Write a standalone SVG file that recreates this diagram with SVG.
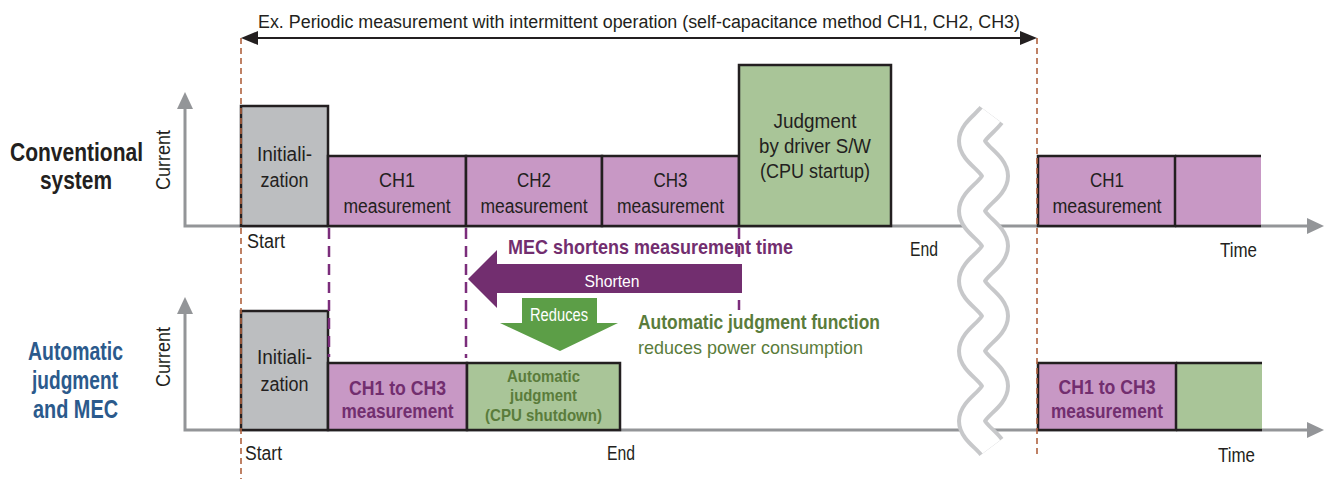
<svg xmlns="http://www.w3.org/2000/svg" width="1330" height="479" viewBox="0 0 1330 479">
<defs>
<style>
text{font-family:"Liberation Sans",Arial,sans-serif;}
.bx{stroke:#231f20;stroke-width:2.5}
.gr{fill:#bcbec0}.pu{fill:#c898c5}.gn{fill:#a9c598}
.ax{stroke:#939598;stroke-width:3;fill:none}
.axh{fill:#939598}
.lb{font-size:19.5px;fill:#231f20;text-anchor:middle}
.lbs{font-size:19.5px;fill:#231f20}
.dB{stroke:#b0623f;stroke-width:1.6;stroke-dasharray:6 4;fill:none}
.dP{stroke:#7b2d7b;stroke-width:2.5;stroke-dasharray:11 7;fill:none}
.pt{fill:#722e6f;font-weight:bold}
.gt{fill:#5a7c3b}
</style>
<path id="wave" d="M991.4,115.1 C984.9,123.8 972,131.3 972,141 C972,154 995,163 995,176 S972,198 972,211 S995,233 995,246 S972,268 972,281 S995,303 995,316 S972,338 972,351 S995,373 995,386 S972,408 972,421 C972,430.75 984.9,438.25 991.4,446.9" fill="none"/>
</defs>

<g id="axes">
  <path class="ax" d="M185,108 V226 H1308"/>
  <polygon class="axh" points="185,92 177,109 193,109"/>
  <polygon class="axh" points="1324,226 1307,218 1307,234"/>
  <path class="ax" d="M185,313 V430 H1308"/>
  <polygon class="axh" points="185,297 177,314 193,314"/>
  <polygon class="axh" points="1324,430 1307,422 1307,438"/>
</g>

<g id="break">
  <use href="#wave" stroke="#c7c8ca" stroke-width="30"/>
  <use href="#wave" stroke="#ffffff" stroke-width="22"/>
</g>

<g id="title">
  <text x="639" y="28" font-size="18" fill="#231f20" text-anchor="middle" textLength="762" lengthAdjust="spacingAndGlyphs">Ex. Periodic measurement with intermittent operation (self-capacitance method CH1, CH2, CH3)</text>
</g>

<g id="row-labels">
  <text x="76.5" y="161" font-size="25" font-weight="bold" fill="#231f20" text-anchor="middle" textLength="133" lengthAdjust="spacingAndGlyphs">Conventional</text>
  <text x="76" y="189" font-size="25" font-weight="bold" fill="#231f20" text-anchor="middle" textLength="72" lengthAdjust="spacingAndGlyphs">system</text>
  <text x="75.5" y="360" font-size="25" font-weight="bold" fill="#2b5a8c" text-anchor="middle" textLength="95" lengthAdjust="spacingAndGlyphs">Automatic</text>
  <text x="75" y="389" font-size="25" font-weight="bold" fill="#2b5a8c" text-anchor="middle" textLength="86" lengthAdjust="spacingAndGlyphs">judgment</text>
  <text x="75.5" y="418" font-size="25" font-weight="bold" fill="#2b5a8c" text-anchor="middle" textLength="85" lengthAdjust="spacingAndGlyphs">and MEC</text>
  <text class="lb" transform="translate(170,160) rotate(-90)" textLength="60" lengthAdjust="spacingAndGlyphs">Current</text>
  <text class="lb" transform="translate(170,357) rotate(-90)" textLength="60" lengthAdjust="spacingAndGlyphs">Current</text>
</g>

<g id="top-init">
  <rect class="bx gr" x="241" y="106" width="87" height="120"/>
  <text class="lb" x="284.5" y="161" textLength="55" lengthAdjust="spacingAndGlyphs">Initiali-</text>
  <text class="lb" x="284.5" y="187" textLength="48" lengthAdjust="spacingAndGlyphs">zation</text>
</g>
<g id="top-ch1">
  <rect class="bx pu" x="328" y="156" width="138" height="70"/>
  <text class="lb" x="397" y="187" textLength="36" lengthAdjust="spacingAndGlyphs">CH1</text>
  <text class="lb" x="397" y="213" textLength="107" lengthAdjust="spacingAndGlyphs">measurement</text>
</g>
<g id="top-ch2">
  <rect class="bx pu" x="466" y="156" width="136" height="70"/>
  <text class="lb" x="534" y="187" textLength="34" lengthAdjust="spacingAndGlyphs">CH2</text>
  <text class="lb" x="534" y="213" textLength="107" lengthAdjust="spacingAndGlyphs">measurement</text>
</g>
<g id="top-ch3">
  <rect class="bx pu" x="602" y="156" width="137" height="70"/>
  <text class="lb" x="670.5" y="187" textLength="34" lengthAdjust="spacingAndGlyphs">CH3</text>
  <text class="lb" x="670.5" y="213" textLength="107" lengthAdjust="spacingAndGlyphs">measurement</text>
</g>
<g id="top-judgment">
  <rect class="bx gn" x="739" y="65" width="152" height="161"/>
  <text class="lb" x="815" y="128" textLength="83" lengthAdjust="spacingAndGlyphs">Judgment</text>
  <text class="lb" x="815" y="153" textLength="112" lengthAdjust="spacingAndGlyphs">by driver S/W</text>
  <text class="lb" x="815" y="178" textLength="110" lengthAdjust="spacingAndGlyphs">(CPU startup)</text>
</g>
<g id="top-next">
  <rect class="pu" x="1175" y="156" width="86" height="70"/>
  <path class="bx" d="M1175,156 H1261 M1175,226 H1261" fill="none"/>
  <rect class="bx pu" x="1038" y="156" width="137" height="70"/>
  <text class="lb" x="1107" y="187" textLength="34" lengthAdjust="spacingAndGlyphs">CH1</text>
  <text class="lb" x="1107" y="213" textLength="109" lengthAdjust="spacingAndGlyphs">measurement</text>
</g>

<g id="bot-init">
  <rect class="bx gr" x="241" y="311" width="87" height="119"/>
  <text class="lb" x="284.5" y="364" textLength="55" lengthAdjust="spacingAndGlyphs">Initiali-</text>
  <text class="lb" x="284.5" y="391" textLength="48" lengthAdjust="spacingAndGlyphs">zation</text>
</g>
<g id="bot-ch">
  <rect class="bx pu" x="328" y="363" width="139" height="67"/>
  <text class="pt" x="397.5" y="395" font-size="20" text-anchor="middle" textLength="97" lengthAdjust="spacingAndGlyphs">CH1 to CH3</text>
  <text class="pt" x="397.5" y="418" font-size="20" text-anchor="middle" textLength="112" lengthAdjust="spacingAndGlyphs">measurement</text>
</g>
<g id="bot-auto">
  <rect class="bx gn" x="467" y="363" width="153" height="67"/>
  <text class="gt" x="543.5" y="382" font-size="16.5" font-weight="bold" text-anchor="middle" textLength="73" lengthAdjust="spacingAndGlyphs">Automatic</text>
  <text class="gt" x="543.5" y="401" font-size="16.5" font-weight="bold" text-anchor="middle" textLength="67" lengthAdjust="spacingAndGlyphs">judgment</text>
  <text class="gt" x="543.5" y="421" font-size="16.5" font-weight="bold" text-anchor="middle" textLength="117" lengthAdjust="spacingAndGlyphs">(CPU shutdown)</text>
</g>
<g id="bot-next">
  <rect class="gn" x="1176" y="363" width="86" height="67"/>
  <path class="bx" d="M1176,363 H1262 M1176,430 H1262" fill="none"/>
  <rect class="bx pu" x="1038" y="363" width="138" height="67"/>
  <text class="pt" x="1107" y="394" font-size="20" text-anchor="middle" textLength="97" lengthAdjust="spacingAndGlyphs">CH1 to CH3</text>
  <text class="pt" x="1107" y="418" font-size="20" text-anchor="middle" textLength="112" lengthAdjust="spacingAndGlyphs">measurement</text>
</g>

<g id="connectors">
  <line class="dB" x1="241" y1="38" x2="241" y2="479"/>
  <line class="dB" x1="1037" y1="38" x2="1037" y2="455"/>
  <line x1="255" y1="38" x2="1023" y2="38" stroke="#231f20" stroke-width="2"/>
  <polygon points="241,38 258,31 258,45" fill="#231f20"/>
  <polygon points="1037,38 1020,31 1020,45" fill="#231f20"/>
  <line class="dP" x1="329" y1="228" x2="329" y2="357"/>
  <line class="dP" x1="466" y1="228" x2="466" y2="358"/>
  <line class="dP" x1="739" y1="228" x2="739" y2="310"/>
  <polygon points="468,279 497,250 497,264 742,264 742,293 497,293 497,308" fill="#722e6f"/>
  <polygon points="522,298 597,298 597,323 618,323 560,351 500,323 522,323" fill="#5c9e47"/>
</g>

<g id="annotations">
  <text class="pt" x="508" y="254" font-size="21" textLength="285" lengthAdjust="spacingAndGlyphs">MEC shortens measurement time</text>
  <text x="612" y="287" font-size="17" fill="#fff" text-anchor="middle" textLength="55" lengthAdjust="spacingAndGlyphs">Shorten</text>
  <text x="559" y="321" font-size="17.5" fill="#fff" text-anchor="middle" textLength="58" lengthAdjust="spacingAndGlyphs">Reduces</text>
  <text class="gt" x="638" y="329" font-size="20" font-weight="bold" textLength="242" lengthAdjust="spacingAndGlyphs">Automatic judgment function</text>
  <text class="gt" x="638" y="354" font-size="19" textLength="225" lengthAdjust="spacingAndGlyphs">reduces power consumption</text>
  <text class="lbs" x="247" y="248" textLength="38" lengthAdjust="spacingAndGlyphs">Start</text>
  <text class="lbs" x="910" y="256" textLength="28" lengthAdjust="spacingAndGlyphs">End</text>
  <text class="lbs" x="1220" y="257" textLength="37" lengthAdjust="spacingAndGlyphs">Time</text>
  <text class="lbs" x="245" y="460" textLength="37" lengthAdjust="spacingAndGlyphs">Start</text>
  <text class="lbs" x="607" y="460" textLength="28" lengthAdjust="spacingAndGlyphs">End</text>
  <text class="lbs" x="1218" y="462" textLength="37" lengthAdjust="spacingAndGlyphs">Time</text>
</g>
</svg>
